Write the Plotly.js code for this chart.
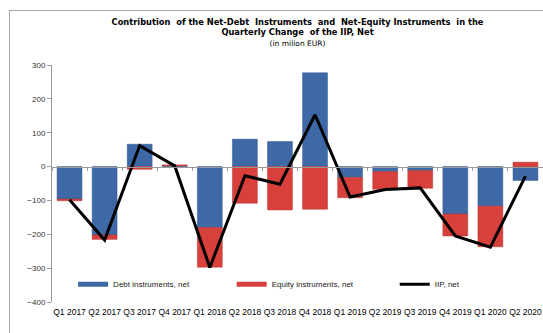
<!DOCTYPE html>
<html>
<head>
<meta charset="utf-8">
<script src="https://cdn.plot.ly/plotly-3.0.1.min.js"></script>
<style>
  html, body { margin: 0; padding: 0; background: #fff; }
  #frame { position: absolute; left: 9px; top: 10px; width: 600px; height: 400px; border: 1px solid #A6A6A6; }
  #chart { position: absolute; left: 0; top: 0; width: 543px; height: 333px; }
</style>
</head>
<body>
<div id="frame"></div>
<div id="chart"></div>
<script>
const categories = ["Q1 2017","Q2 2017","Q3 2017","Q4 2017","Q1 2018","Q2 2018","Q3 2018","Q4 2018",
                    "Q1 2019","Q2 2019","Q3 2019","Q4 2019","Q1 2020","Q2 2020"];
const debtNet   = [-96, -202, 66, 2, -180, 81, 74, 277, -32, -15, -12, -140, -117, -41];
const equityNet = [-5, -13, -8, 3, -117, -108, -128, -126, -60, -52, -52, -65, -120, 13];
const iipNet    = [-98, -217, 62, 2, -298, -27, -52, 153, -90, -68, -63, -205, -238, -28];

const blue = "#3E69A6";
const red = "#D8403B";
const font = "Liberation Sans, Arial, sans-serif";
const nulls = categories.map(() => null);

const traces = [
  { type: "bar", x: categories, y: debtNet, name: "Debt instruments, net", marker: { color: blue, line: { color: "#335A90", width: 0.5 } }, showlegend: false },
  { type: "bar", x: categories, y: equityNet, name: "Equity instruments, net", marker: { color: red, line: { color: "#B83430", width: 0.5 } }, showlegend: false },
  { type: "scatter", mode: "lines", x: categories, y: nulls, name: "Debt instruments, net", line: { color: blue, width: 5 }, hoverinfo: "skip", legend: "legend" },
  { type: "scatter", mode: "lines", x: categories, y: nulls, name: "Equity instruments, net", line: { color: red, width: 5 }, hoverinfo: "skip", legend: "legend2" },
  { type: "scatter", mode: "lines", x: categories, y: iipNet, name: "IIP, net", line: { color: "#000000", width: 3 }, legend: "legend3" },
  { type: "scatter", mode: "lines", x: categories, y: nulls, xaxis: "x2", yaxis: "y", showlegend: false, hoverinfo: "skip" }
];

const legendBase = {
  orientation: "h", xanchor: "left", y: 0.075, yanchor: "middle",
  bgcolor: "rgba(0,0,0,0)", font: { family: font, size: 8, color: "#222" },
  itemwidth: 30
};

const layout = {
  width: 543, height: 333,
  margin: { l: 52, r: 0, t: 65, b: 31 },
  paper_bgcolor: "rgba(0,0,0,0)",
  plot_bgcolor: "rgba(0,0,0,0)",
  barmode: "relative",
  bargap: 0.29,
  font: { family: font, size: 8, color: "#333" },
  title: {
    text: "<b>Contribution  of the Net-Debt  Instruments  and  Net-Equity Instruments  in the</b><br><b>Quarterly Change  of the IIP, Net</b><br><span style='font-size:7.5px;font-weight:normal'>(in milion EUR)</span>",
    font: { family: "DejaVu Sans, Verdana, sans-serif", size: 8.3, color: "#000" },
    x: 0.5, xref: "paper", xanchor: "center",
    y: 0.926, yref: "container", yanchor: "top"
  },
  xaxis: {
    type: "category", categoryarray: categories, range: [-0.5, 13.5],
    showline: false, ticks: "", showgrid: false, zeroline: false,
    tickfont: { family: font, size: 8.5, color: "#000" }, tickangle: 0, ticklabelstandoff: 3
  },
  xaxis2: {
    type: "category", categoryarray: categories, range: [-0.5, 13.5],
    overlaying: "x", anchor: "free", position: 400 / 700,
    showticklabels: false, showline: true, linecolor: "#9A9A9A", linewidth: 1,
    ticks: "outside", tickson: "boundaries", ticklen: 3, tickcolor: "#9A9A9A",
    showgrid: false, zeroline: false
  },
  yaxis: {
    range: [-400, 300], dtick: 100, showgrid: false, zeroline: false,
    showline: true, linecolor: "#9A9A9A", linewidth: 1,
    ticks: "outside", ticklen: 4, tickcolor: "#9A9A9A",
    tickfont: { family: font, size: 8, color: "#333" }
  },
  legend: Object.assign({}, legendBase, { x: 0.043 }),
  legend2: Object.assign({}, legendBase, { x: 0.366 }),
  legend3: Object.assign({}, legendBase, { x: 0.698 }),
  showlegend: true
};

Plotly.newPlot("chart", traces, layout, { displayModeBar: false, staticPlot: true });
</script>
</body>
</html>
